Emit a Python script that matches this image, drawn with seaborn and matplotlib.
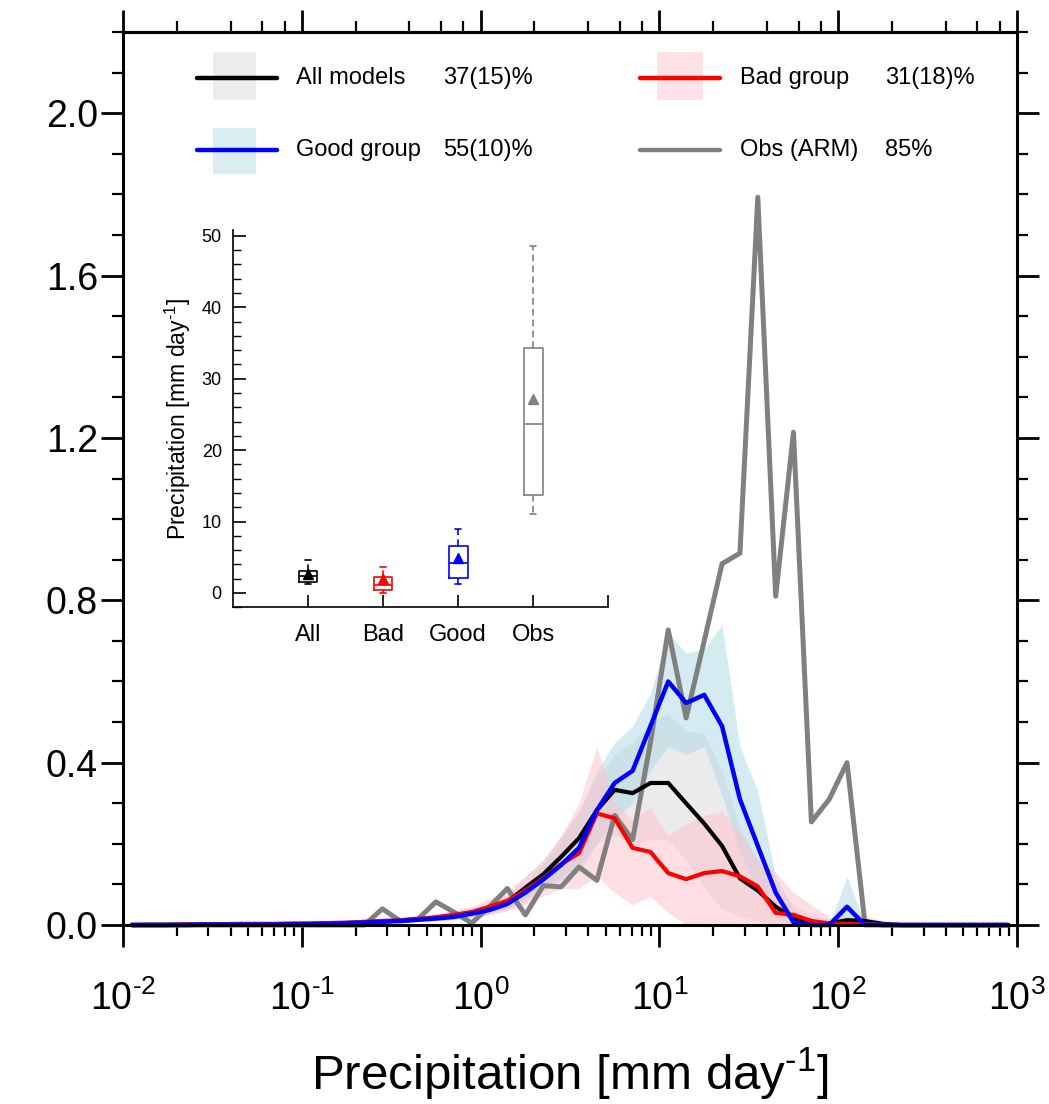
import numpy as np
import pandas as pd
import matplotlib
matplotlib.use("Agg")
import matplotlib.pyplot as plt
import seaborn as sns
from matplotlib.ticker import (LogLocator, MultipleLocator, FixedLocator, FixedFormatter,
                               NullFormatter, FormatStrFormatter)
from matplotlib.patches import Rectangle

# ---------------- data ----------------
bin_centers = [0.0112, 0.0141, 0.0178, 0.0224, 0.0282, 0.0355, 0.0447, 0.0562, 0.0708, 0.0891,
               0.112, 0.141, 0.178, 0.224, 0.282, 0.355, 0.447, 0.562, 0.708, 0.891,
               1.12, 1.41, 1.78, 2.24, 2.82, 3.55, 4.47, 5.62, 7.08, 8.91,
               11.2, 14.1, 17.8, 22.4, 28.2, 35.5, 44.7, 56.2, 70.8, 89.1,
               112, 141, 178, 224, 282, 355, 447, 562, 708, 891]

obs_arm = [0, 0, 0, 0, 0, 0, 0, 0, 0, 0,
           0, 0, 0, 0, 0.04, 0.01, 0.015, 0.057, 0.032, 0.005,
           0.045, 0.09, 0.025, 0.097, 0.094, 0.143, 0.11, 0.27, 0.21, 0.45,
           0.727, 0.51, 0.70, 0.89, 0.916, 1.793, 0.81, 1.214, 0.254, 0.31,
           0.40, 0.005, 0, 0, 0, 0, 0, 0, 0, 0]

all_mean = [0, 0, 0, 0.001, 0.001, 0.001, 0.001, 0.002, 0.002, 0.002,
            0.003, 0.004, 0.005, 0.007, 0.009, 0.011, 0.014, 0.018, 0.024, 0.031,
            0.042, 0.057, 0.092, 0.125, 0.168, 0.214, 0.283, 0.333, 0.325, 0.35,
            0.35, 0.30, 0.25, 0.195, 0.115, 0.085, 0.045, 0.017, 0.006, 0.004,
            0.012, 0.010, 0.003, 0, 0, 0, 0, 0, 0, 0]
all_lo = [0, 0, 0, 0, 0, 0, 0, 0.001, 0.001, 0.001,
          0.002, 0.002, 0.003, 0.004, 0.005, 0.007, 0.009, 0.011, 0.015, 0.02,
          0.028, 0.04, 0.065, 0.09, 0.12, 0.15, 0.2, 0.22, 0.2, 0.21,
          0.21, 0.16, 0.09, 0.04, 0.02, 0.01, 0, 0, 0, 0,
          0, 0, 0, 0, 0, 0, 0, 0, 0, 0]
all_hi = [0.001, 0.001, 0.001, 0.002, 0.002, 0.002, 0.003, 0.003, 0.003, 0.004,
          0.005, 0.006, 0.007, 0.01, 0.013, 0.016, 0.02, 0.025, 0.033, 0.042,
          0.056, 0.075, 0.12, 0.16, 0.22, 0.28, 0.36, 0.42, 0.45, 0.50,
          0.52, 0.48, 0.47, 0.38, 0.24, 0.16, 0.10, 0.05, 0.025, 0.015,
          0.03, 0.025, 0.008, 0.002, 0, 0, 0, 0, 0, 0]

bad_mean = [0, 0.001, 0.001, 0.002, 0.002, 0.002, 0.003, 0.003, 0.003, 0.004,
            0.004, 0.005, 0.006, 0.008, 0.010, 0.012, 0.015, 0.019, 0.025, 0.032,
            0.045, 0.06, 0.085, 0.115, 0.15, 0.177, 0.275, 0.263, 0.19, 0.18,
            0.128, 0.113, 0.128, 0.133, 0.12, 0.095, 0.03, 0.025, 0.01, 0.004,
            0.003, 0.002, 0.001, 0, 0, 0, 0, 0, 0, 0]
bad_lo = [0, 0, 0, 0, 0, 0, 0, 0.001, 0.001, 0.001,
          0.002, 0.002, 0.003, 0.004, 0.005, 0.006, 0.008, 0.01, 0.013, 0.018,
          0.025, 0.035, 0.05, 0.07, 0.09, 0.09, 0.12, 0.08, 0.05, 0.07,
          0.03, 0, 0, 0, 0, 0, 0, 0, 0, 0,
          0, 0, 0, 0, 0, 0, 0, 0, 0, 0]
bad_hi = [0.001, 0.002, 0.003, 0.004, 0.004, 0.004, 0.005, 0.005, 0.006, 0.007,
          0.007, 0.008, 0.01, 0.012, 0.015, 0.018, 0.022, 0.028, 0.036, 0.046,
          0.065, 0.085, 0.12, 0.16, 0.22, 0.30, 0.44, 0.30, 0.26, 0.29,
          0.22, 0.25, 0.27, 0.28, 0.23, 0.16, 0.13, 0.08, 0.05, 0.02,
          0.01, 0.005, 0.002, 0, 0, 0, 0, 0, 0, 0]

good_mean = [0, 0, 0, 0, 0.001, 0.001, 0.001, 0.001, 0.001, 0.002,
             0.002, 0.003, 0.004, 0.006, 0.008, 0.010, 0.013, 0.016, 0.020, 0.028,
             0.037, 0.052, 0.08, 0.112, 0.148, 0.19, 0.283, 0.35, 0.38, 0.49,
             0.60, 0.547, 0.567, 0.49, 0.31, 0.195, 0.08, 0.007, 0, 0,
             0.045, 0, 0, 0, 0, 0, 0, 0, 0, 0]
good_lo = [0, 0, 0, 0, 0, 0, 0, 0, 0, 0.001,
           0.001, 0.002, 0.003, 0.004, 0.005, 0.007, 0.009, 0.011, 0.014, 0.02,
           0.027, 0.04, 0.06, 0.085, 0.11, 0.13, 0.2, 0.26, 0.3, 0.38,
           0.44, 0.42, 0.44, 0.32, 0.18, 0.08, 0.02, 0, 0, 0,
           0, 0, 0, 0, 0, 0, 0, 0, 0, 0]
good_hi = [0, 0, 0, 0.001, 0.001, 0.001, 0.002, 0.002, 0.002, 0.003,
           0.003, 0.004, 0.005, 0.008, 0.011, 0.013, 0.017, 0.021, 0.027, 0.036,
           0.047, 0.065, 0.10, 0.15, 0.21, 0.28, 0.38, 0.45, 0.49, 0.57,
           0.72, 0.67, 0.68, 0.74, 0.44, 0.33, 0.12, 0.04, 0.005, 0,
           0.12, 0, 0, 0, 0, 0, 0, 0, 0, 0]

xtick_values = [1e-2, 1e-1, 1e0, 1e1, 1e2, 1e3]
xtick_labels = [r"$10^{\text{-}2}$", r"$10^{\text{-}1}$", r"$10^{0}$",
                r"$10^{1}$", r"$10^{2}$", r"$10^{3}$"]

legend_labels = ["All models", "Good group", "Bad group", "Obs (ARM)"]
legend_values = ["37(15)%", "55(10)%", "31(18)%", "85%"]

# inset box plot statistics (mm/day)
box_names = ["All", "Bad", "Good", "Obs"]
box_whislo = [1.21, 0.0, 1.21, 11.1]
box_q1 = [1.54, 0.37, 2.15, 13.7]
box_med = [2.33, 1.17, 4.2, 23.6]
box_q3 = [3.03, 2.24, 6.54, 34.3]
box_whishi = [4.58, 3.64, 8.92, 48.6]
box_mean = [2.7, 2.0, 4.95, 27.1]

# ---------------- style ----------------
sns.set_style("ticks")
plt.rcParams['font.family'] = ['Liberation Sans', 'DejaVu Sans']
plt.rcParams['mathtext.fontset'] = 'custom'
plt.rcParams['mathtext.rm'] = 'Liberation Sans'
plt.rcParams['mathtext.it'] = 'Liberation Sans:italic'
plt.rcParams['mathtext.bf'] = 'Liberation Sans:bold'
plt.rcParams['mathtext.default'] = 'regular'
for k in ['text.color', 'axes.labelcolor', 'xtick.color', 'ytick.color', 'axes.edgecolor']:
    plt.rcParams[k] = 'black'

c_all, c_good, c_bad, c_obs = "black", "#0000ff", "#ff0000", "#808080"

fig = plt.figure(figsize=(10.49, 11.04), dpi=100)
ax = fig.add_axes([0.1173, 0.1621, 0.8522, 0.8089])

df = pd.DataFrame({"precip": bin_centers, "obs": obs_arm, "all": all_mean,
                   "bad": bad_mean, "good": good_mean})

x = np.array(bin_centers)
ax.fill_between(x, all_lo, all_hi, color="#d3d3d3", alpha=0.45, lw=0)
ax.fill_between(x, good_lo, good_hi, color="#add8e6", alpha=0.5, lw=0)
ax.fill_between(x, bad_lo, bad_hi, color="#ffc0cb", alpha=0.5, lw=0)

for col, c, lw in [("obs", c_obs, 3.6), ("all", c_all, 3.0), ("bad", c_bad, 3.0), ("good", c_good, 3.2)]:
    sns.lineplot(data=df, x="precip", y=col, color=c, lw=lw, ax=ax, clip_on=False)

ax.set_xscale("log")
ax.set_xlim(1e-2, 1e3)
ax.set_ylim(0, 2.2)
ax.set_ylabel("")
ax.set_xlabel(r"Precipitation [mm day$^{\text{-}1}$]", fontsize=35.5, labelpad=20)

ax.xaxis.set_major_locator(FixedLocator(xtick_values))
ax.xaxis.set_major_formatter(FixedFormatter(xtick_labels))
ax.xaxis.set_minor_locator(LogLocator(base=10, subs=np.arange(2, 10), numticks=20))
ax.xaxis.set_minor_formatter(NullFormatter())
ax.yaxis.set_major_locator(MultipleLocator(0.4))
ax.yaxis.set_minor_locator(MultipleLocator(0.1))
ax.yaxis.set_major_formatter(FormatStrFormatter("%.1f"))

for s in ax.spines.values():
    s.set_linewidth(2.2)
ax.tick_params(axis="both", which="major", direction="out", length=16, width=2.0, labelsize=27)
ax.tick_params(axis="both", which="minor", direction="out", length=8, width=1.6)
ax.tick_params(axis="y", which="both", right=True, left=True, pad=2)
ax.tick_params(axis="x", which="major", pad=24)

top = ax.secondary_xaxis("top")
top.xaxis.set_major_locator(FixedLocator(xtick_values))
top.xaxis.set_minor_locator(LogLocator(base=10, subs=[2, 4, 6, 8], numticks=20))
top.xaxis.set_major_formatter(NullFormatter())
top.xaxis.set_minor_formatter(NullFormatter())
top.tick_params(which="major", direction="out", length=16, width=2.0)
top.tick_params(which="minor", direction="out", length=8, width=1.6)
top.spines["top"].set_linewidth(2.2)

# ---------------- legend (drawn in axes coords) ----------------
leg_cols = [(0.083, 0.172, 0.1007, 0.149, 0.1935, 0.358),
            (0.578, 0.668, 0.597, 0.649, 0.690, 0.852)]
leg_rows = [(0.948, 0.924, 0.978), (0.868, 0.841, 0.8925)]
leg_items = [(0, 0, c_all, "#d3d3d3", 0.4), (1, 0, c_good, "#add8e6", 0.45),
             (0, 1, c_bad, "#ffc0cb", 0.45), (1, 1, c_obs, None, 0)]
for i, (r, cidx, lc, fc, fa) in enumerate(leg_items):
    lx0, lx1, px0, px1, tx, vx = leg_cols[cidx]
    yc, py0, py1 = leg_rows[r]
    if fc is not None:
        ax.add_patch(Rectangle((px0, py0), px1 - px0, py1 - py0, transform=ax.transAxes,
                               facecolor=fc, alpha=fa, lw=0))
    ax.plot([lx0, lx1], [yc, yc], color=lc, lw=3.2, transform=ax.transAxes,
            solid_capstyle="round")
    ax.text(tx, yc, legend_labels[i], transform=ax.transAxes, fontsize=17,
            va="center", ha="left")
    ax.text(vx, yc, legend_values[i], transform=ax.transAxes, fontsize=17,
            va="center", ha="left")

# ---------------- inset box plot ----------------
axi = fig.add_axes([0.222, 0.450, 0.358, 0.3415])
axi.patch.set_alpha(0)
box_colors = [c_all, c_bad, c_good, c_obs]
for i in range(4):
    st = dict(med=box_med[i], q1=box_q1[i], q3=box_q3[i], whislo=box_whislo[i],
              whishi=box_whishi[i], mean=box_mean[i], fliers=[], label=box_names[i])
    c = box_colors[i]
    axi.bxp([st], positions=[i + 1], widths=0.25, showmeans=True, showfliers=False,
            capwidths=0.08,
            boxprops=dict(color=c, lw=1.2),
            medianprops=dict(color=c, lw=1.2),
            whiskerprops=dict(color=c, lw=1.2, linestyle=(0, (4, 2.5))),
            capprops=dict(color=c, lw=1.2),
            meanprops=dict(marker="^", markerfacecolor=c, markeredgecolor=c, markersize=7))
axi.set_xlim(0, 5)
axi.set_ylim(-2, 50.8)
axi.set_xticks([1, 2, 3, 4, 5])
axi.set_xticklabels(box_names + [""])
axi.yaxis.set_major_locator(MultipleLocator(10))
axi.yaxis.set_minor_locator(MultipleLocator(2))
axi.spines["top"].set_visible(False)
axi.spines["right"].set_visible(False)
axi.spines["left"].set_linewidth(1.2)
axi.spines["bottom"].set_linewidth(1.2)
axi.spines["left"].set_bounds(-2, 50.8)
axi.tick_params(axis="y", which="major", direction="in", length=9, width=1.2, labelsize=13, pad=8)
axi.tick_params(axis="y", which="minor", direction="in", length=6, width=1.0)
axi.tick_params(axis="x", which="major", direction="in", length=9, width=1.2, labelsize=17, pad=12)
axi.set_ylabel(r"Precipitation [mm day$^{\text{-}1}$]", fontsize=16.5, labelpad=6)

fig.savefig("out.png", dpi=100)
